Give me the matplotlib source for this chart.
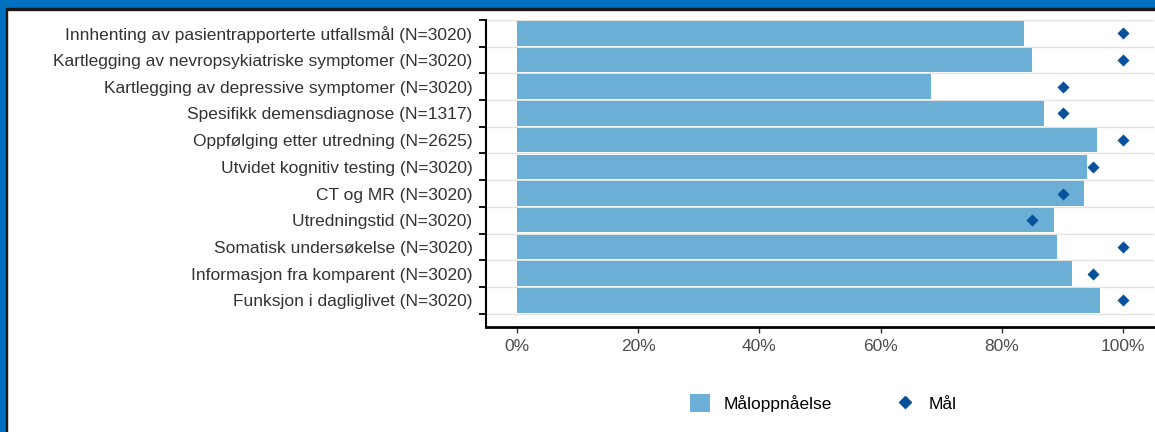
import matplotlib
matplotlib.use("Agg")
import matplotlib.pyplot as plt
from matplotlib.patches import Rectangle, Patch
from matplotlib.lines import Line2D
import numpy as np

plt.rcParams['font.family'] = ['Liberation Sans', 'DejaVu Sans']

kategorier = [
    "Innhenting av pasientrapporterte utfallsmål (N=3020)",
    "Kartlegging av nevropsykiatriske symptomer (N=3020)",
    "Kartlegging av depressive symptomer (N=3020)",
    "Spesifikk demensdiagnose (N=1317)",
    "Oppfølging etter utredning (N=2625)",
    "Utvidet kognitiv testing (N=3020)",
    "CT og MR (N=3020)",
    "Utredningstid (N=3020)",
    "Somatisk undersøkelse (N=3020)",
    "Informasjon fra komparent (N=3020)",
    "Funksjon i dagliglivet (N=3020)",
]
maaloppnaelse = [83.7, 84.9, 68.3, 86.9, 95.6, 94.0, 93.6, 88.6, 89.1, 91.6, 96.2]
maal = [100, 100, 90, 90, 100, 95, 90, 85, 100, 95, 100]
xticks = [0, 20, 40, 60, 80, 100]

bar_col = "#6baed6"
dot_col = "#08519c"
border_col = "#0070c0"

fig = plt.figure(figsize=(11.55, 4.32), dpi=100)
ax = fig.add_axes([0.4211, 0.2431, 0.5777, 0.7106])

pos = np.arange(len(kategorier))
ax.barh(pos, maaloppnaelse, height=0.92, color=bar_col, zorder=2)
ax.scatter(maal, pos, marker="D", s=38, color=dot_col, zorder=3, linewidths=0)

ax.set_xlim(-5, 105)
ax.set_ylim(11.0, -0.5)

ax.set_yticks(pos)
ax.set_yticklabels(kategorier, fontsize=12.5, color="#333333")
ax.set_yticks(np.arange(-0.5, len(kategorier), 1.0), minor=True)
ax.tick_params(axis="y", which="major", length=0, pad=10)
ax.tick_params(axis="y", which="minor", length=5, width=1.3, color="black")
ax.grid(axis="y", which="minor", color="#e3e3e3", linewidth=1, zorder=1)

ax.set_xticks(xticks)
ax.set_xticklabels([f"{v}%" for v in xticks], fontsize=12.5, color="#4d4d4d")
ax.tick_params(axis="x", length=4, width=1, color="#333333", pad=5)

for s in ["top", "right"]:
    ax.spines[s].set_visible(False)
ax.spines["left"].set_linewidth(1.5)
ax.spines["bottom"].set_linewidth(2)

handles = [
    Patch(facecolor=bar_col, edgecolor="none", label="Måloppnåelse"),
    Line2D([], [], marker="D", linestyle="none", color=dot_col, markersize=6, label="Mål"),
]
fig.legend(handles=handles, loc="center", bbox_to_anchor=(0.713, 0.067), ncol=2,
           frameon=False, fontsize=12.5, handlelength=1.15, handleheight=1.2,
           columnspacing=3.6, handletextpad=0.8)

# blå ramme fra skjermbildet
fig.patches.append(Rectangle((0, 1 - 8 / 432), 1, 8 / 432, transform=fig.transFigure,
                             color=border_col, zorder=0))
fig.patches.append(Rectangle((0, 1 - 10 / 432), 1, 2 / 432, transform=fig.transFigure,
                             color="#1a1a1a", zorder=0))
fig.patches.append(Rectangle((0, 0), 5.5 / 1155, 1, transform=fig.transFigure,
                             color=border_col, zorder=0))
fig.patches.append(Rectangle((5.5 / 1155, 0), 1.8 / 1155, 1 - 8 / 432, transform=fig.transFigure,
                             color="#1a1a1a", zorder=0))

fig.savefig("out.png", dpi=100)
